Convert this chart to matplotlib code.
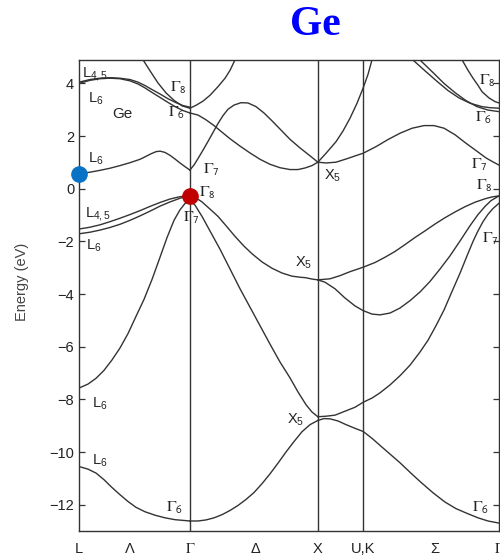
import numpy as np
import matplotlib.pyplot as plt

plt.rcParams['font.family'] = ['Liberation Sans', 'DejaVu Sans']
plt.rcParams['mathtext.fontset'] = 'custom'
plt.rcParams['mathtext.rm'] = 'Liberation Sans'
plt.rcParams['mathtext.it'] = 'Liberation Sans:italic'
plt.rcParams['mathtext.bf'] = 'Liberation Sans:bold'

# high-symmetry points along the path (units of 2*pi/a)
kL, kG, kX, kU, kG2 = 0.0, 0.866, 1.866, 2.220, 3.281
k_ticks = [kL, 0.398, kG, 1.375, kX, kU, 2.78, kG2]
k_names = ['L', 'Λ', r'$\Gamma$', 'Δ', 'X', 'U,K', 'Σ', r'$\Gamma$']
y_ticks = [-12, -10, -8, -6, -4, -2, 0, 2, 4]

# ---- L -> Gamma ----
k_lg = [0, 0.086, 0.164, 0.242, 0.320, 0.398, 0.477, 0.555, 0.633, 0.711, 0.789, 0.866]
E_lg_hh = [-1.71, -1.65, -1.57, -1.47, -1.35, -1.2, -1.03, -0.85, -0.66, -0.5, -0.36, -0.27]
E_lg_lh = [-1.53, -1.46, -1.37, -1.25, -1.12, -0.98, -0.83, -0.67, -0.52, -0.39, -0.3, -0.27]

k_lg_s = [0, 0.070, 0.133, 0.195, 0.258, 0.320, 0.383, 0.445, 0.516, 0.594, 0.672, 0.750, 0.866]
E_lg_s = [-10.55, -10.65, -10.8, -11.05, -11.35, -11.62, -11.88, -12.1, -12.27, -12.4, -12.5, -12.57, -12.62]

k_lg_so = [0, 0.070, 0.133, 0.195, 0.258, 0.320, 0.383, 0.445, 0.508, 0.570, 0.633, 0.688, 0.742, 0.789, 0.828, 0.866]
E_lg_so = [-7.57, -7.42, -7.2, -6.9, -6.5, -6.05, -5.5, -4.85, -4.2, -3.45, -2.6, -1.85, -1.2, -0.8, -0.56, -0.45]

k_lg_c1 = [0, 0.086, 0.164, 0.242, 0.320, 0.398, 0.477, 0.523, 0.563, 0.602, 0.633, 0.672, 0.711, 0.750, 0.789, 0.828, 0.866]
E_lg_c1 = [0.57, 0.63, 0.7, 0.78, 0.88, 0.99, 1.12, 1.23, 1.33, 1.41, 1.43, 1.38, 1.27, 1.13, 0.98, 0.84, 0.71]

k_lg_c2 = [0, 0.086, 0.164, 0.242, 0.320, 0.398, 0.461, 0.516, 0.570, 0.633, 0.695, 0.758, 0.813, 0.866]
E_lg_c2a = [4.05, 4.15, 4.2, 4.22, 4.2, 4.15, 4.05, 3.92, 3.77, 3.6, 3.42, 3.27, 3.16, 3.1]
E_lg_c2b = [4.0, 4.12, 4.18, 4.2, 4.18, 4.1, 3.98, 3.83, 3.66, 3.47, 3.28, 3.1, 2.97, 2.88]

k_lg_g8 = [0.5, 0.555, 0.617, 0.680, 0.742, 0.805, 0.866]
E_lg_g8 = [4.9, 4.48, 4.02, 3.64, 3.36, 3.15, 3.06]

# ---- Gamma -> X ----
k_gx_s = [0.866, 0.930, 0.992, 1.055, 1.117, 1.180, 1.242, 1.305, 1.367, 1.430, 1.492, 1.555, 1.617, 1.680, 1.742, 1.805, 1.866]
E_gx_s = [-12.62, -12.62, -12.58, -12.5, -12.38, -12.22, -12.03, -11.8, -11.54, -11.2, -10.83, -10.42, -10.0, -9.6, -9.23, -8.96, -8.8]

k_gx_so = [0.866, 0.906, 0.961, 1.023, 1.102, 1.180, 1.258, 1.336, 1.414, 1.492, 1.570, 1.648, 1.711, 1.773, 1.820, 1.866]
E_gx_so = [-0.45, -0.62, -1.05, -1.6, -2.3, -3.05, -3.8, -4.5, -5.2, -5.9, -6.58, -7.18, -7.72, -8.2, -8.48, -8.66]

k_gx_v = [0.866, 0.914, 0.961, 1.023, 1.086, 1.148, 1.219, 1.289, 1.352, 1.430, 1.508, 1.586, 1.664, 1.727, 1.773, 1.820, 1.866]
E_gx_v = [-0.27, -0.35, -0.5, -0.77, -1.05, -1.4, -1.81, -2.18, -2.47, -2.78, -3.02, -3.2, -3.32, -3.36, -3.38, -3.43, -3.46]

k_gx_c1 = [0.866, 0.898, 0.930, 0.969, 1.008, 1.047, 1.086, 1.125, 1.164, 1.211, 1.266, 1.320, 1.383, 1.445, 1.508, 1.570, 1.648, 1.727, 1.805, 1.866]
E_gx_c1 = [0.71, 0.9, 1.15, 1.47, 1.8, 2.14, 2.48, 2.78, 3.02, 3.18, 3.27, 3.26, 3.12, 2.88, 2.58, 2.27, 1.88, 1.55, 1.25, 1.01]

k_gx_c2 = [0.866, 0.930, 0.992, 1.055, 1.117, 1.180, 1.258, 1.336, 1.414, 1.492, 1.570, 1.648, 1.711, 1.766, 1.820, 1.866]
E_gx_c2 = [2.88, 2.8, 2.62, 2.4, 2.15, 1.9, 1.62, 1.36, 1.12, 0.93, 0.8, 0.73, 0.73, 0.79, 0.88, 1.01]

k_gx_g8 = [0.866, 0.914, 0.969, 1.023, 1.086, 1.141, 1.180, 1.219]
E_gx_g8 = [3.06, 3.17, 3.33, 3.55, 3.88, 4.2, 4.5, 4.9]

# ---- X -> U,K -> Gamma ----
k_xg_s = [1.866, 1.914, 1.961, 2.023, 2.086, 2.156, 2.220, 2.289, 2.352, 2.430, 2.508, 2.586, 2.664, 2.766, 2.859, 2.945, 3.031, 3.117, 3.195, 3.281]
E_xg_s = [-8.8, -8.73, -8.74, -8.82, -8.96, -9.1, -9.22, -9.48, -9.75, -10.08, -10.41, -10.77, -11.12, -11.55, -11.9, -12.15, -12.33, -12.5, -12.62, -12.7]

k_xg_so = [1.866, 1.930, 2.0, 2.078, 2.156, 2.220, 2.289, 2.352, 2.430, 2.508, 2.586, 2.664, 2.727, 2.789, 2.852, 2.914, 2.977, 3.031, 3.078, 3.117, 3.156, 3.195, 3.234, 3.281]
E_xg_so = [-8.66, -8.64, -8.6, -8.45, -8.3, -8.11, -7.95, -7.75, -7.45, -7.1, -6.7, -6.2, -5.75, -5.2, -4.6, -3.9, -3.2, -2.55, -2.0, -1.6, -1.25, -0.97, -0.75, -0.55]

k_xg_v1 = [1.866, 1.922, 2.0, 2.078, 2.156, 2.220, 2.289, 2.352, 2.430, 2.508, 2.586, 2.664, 2.742, 2.820, 2.898, 2.977, 3.055, 3.117, 3.172, 3.219, 3.281]
E_xg_v1 = [-3.46, -3.55, -3.8, -4.15, -4.45, -4.63, -4.76, -4.79, -4.72, -4.53, -4.25, -3.92, -3.52, -3.05, -2.55, -1.98, -1.4, -0.98, -0.67, -0.45, -0.27]

k_xg_v2 = [1.866, 1.961, 2.039, 2.117, 2.220, 2.313, 2.391, 2.469, 2.547, 2.625, 2.703, 2.781, 2.859, 2.938, 3.016, 3.094, 3.172, 3.227, 3.281]
E_xg_v2 = [-3.46, -3.42, -3.3, -3.15, -2.98, -2.8, -2.6, -2.38, -2.12, -1.85, -1.6, -1.34, -1.1, -0.88, -0.68, -0.51, -0.38, -0.31, -0.27]

k_xg_c1 = [1.866, 1.930, 2.008, 2.086, 2.164, 2.220, 2.320, 2.414, 2.508, 2.602, 2.695, 2.773, 2.852, 2.938, 3.023, 3.102, 3.180, 3.234, 3.281]
E_xg_c1 = [1.01, 0.98, 1.01, 1.13, 1.26, 1.35, 1.6, 1.87, 2.11, 2.3, 2.4, 2.4, 2.3, 2.05, 1.73, 1.45, 1.17, 1.02, 0.9]

k_xg_c2 = [1.866, 1.930, 2.008, 2.063, 2.117, 2.172, 2.219, 2.258, 2.289]
E_xg_c2 = [1.01, 1.35, 1.79, 2.2, 2.68, 3.25, 3.82, 4.35, 4.9]

k_xg_c3a = [2.609, 2.703, 2.797, 2.883, 2.969, 3.055, 3.148, 3.211, 3.281]
E_xg_c3a = [4.89, 4.48, 4.08, 3.73, 3.45, 3.25, 3.12, 3.08, 3.06]
k_xg_c3b = [2.664, 2.758, 2.852, 2.938, 3.023, 3.109, 3.195, 3.281]
E_xg_c3b = [4.89, 4.45, 4.0, 3.65, 3.35, 3.12, 2.99, 2.93]

k_xg_g8 = [2.992, 3.039, 3.078, 3.117, 3.148, 3.203, 3.250, 3.281]
E_xg_g8 = [4.9, 4.5, 4.2, 3.93, 3.69, 3.45, 3.31, 3.26]

bands = [
    (k_lg, E_lg_hh), (k_lg, E_lg_lh), (k_lg_s, E_lg_s), (k_lg_so, E_lg_so),
    (k_lg_c1, E_lg_c1), (k_lg_c2, E_lg_c2a), (k_lg_c2, E_lg_c2b), (k_lg_g8, E_lg_g8),
    (k_gx_s, E_gx_s), (k_gx_so, E_gx_so), (k_gx_v, E_gx_v), (k_gx_c1, E_gx_c1),
    (k_gx_c2, E_gx_c2), (k_gx_g8, E_gx_g8),
    (k_xg_s, E_xg_s), (k_xg_so, E_xg_so), (k_xg_v1, E_xg_v1), (k_xg_v2, E_xg_v2),
    (k_xg_c1, E_xg_c1), (k_xg_c2, E_xg_c2), (k_xg_c3a, E_xg_c3a), (k_xg_c3b, E_xg_c3b),
    (k_xg_g8, E_xg_g8),
]

# band labels: (text, k, E, greek?)
labels = [
    (r'L$_{4,5}$', 0.023, 4.24, False), (r'L$_{6}$', 0.07, 3.29, False),
    (r'$\Gamma_{\mathsf{8}}$', 0.711, 3.68, True), (r'$\Gamma_{\mathsf{6}}$', 0.695, 2.73, True),
    (r'L$_{6}$', 0.07, 0.98, False), (r'$\Gamma_{\mathsf{7}}$', 0.969, 0.57, True),
    (r'$\Gamma_{\mathsf{8}}$', 0.9375, -0.31, True), (r'L$_{4,5}$', 0.047, -1.07, False),
    (r'$\Gamma_{\mathsf{7}}$', 0.8125, -1.26, True), (r'L$_{6}$', 0.055, -2.32, False),
    (r'X$_{5}$', 1.914, 0.34, False), (r'X$_{5}$', 1.6875, -2.96, False),
    (r'X$_{5}$', 1.625, -8.92, False), (r'L$_{6}$', 0.10, -8.31, False),
    (r'L$_{6}$', 0.10, -10.48, False), (r'$\Gamma_{\mathsf{6}}$', 0.68, -12.26, True),
    (r'$\Gamma_{\mathsf{8}}$', 3.125, 3.94, True), (r'$\Gamma_{\mathsf{6}}$', 3.094, 2.54, True),
    (r'$\Gamma_{\mathsf{7}}$', 3.0625, 0.76, True), (r'$\Gamma_{\mathsf{8}}$', 3.10, -0.04, True),
    (r'$\Gamma_{\mathsf{7}}$', 3.148, -2.05, True), (r'$\Gamma_{\mathsf{6}}$', 3.07, -12.26, True),
]

ink = '#333333'
fig = plt.figure(figsize=(5, 5.58), dpi=100)
ax = fig.add_axes([0.158, 0.0484, 0.840, 0.844])

for k, E in bands:
    ax.plot(k, E, color=ink, lw=1.0)
for kv in (kG, kX, kU):
    ax.axvline(kv, color=ink, lw=1.0)

ax.plot(kL, E_lg_c1[0], 'o', ms=11, color='#0a72c4', clip_on=False, zorder=5)
ax.plot(kG, E_lg_hh[-1], 'o', ms=11, color='#c00000', clip_on=False, zorder=5)

for txt, k, E, greek in labels:
    t = ax.text(k, E, txt, fontsize=10.5, color='#222222', va='baseline', ha='left')
    if greek:
        t.set_math_fontfamily('stix')
        t.set_fontsize(11.5)
ax.text(0.258, 2.69, 'Ge', fontsize=11, color='#222222', va='baseline')

ax.set_xlim(kL, kG2)
ax.set_ylim(-13, 4.89)
ax.set_xticks(k_ticks)
ax.set_xticklabels(k_names)
for t in ax.get_xticklabels():
    t.set_math_fontfamily('stix')
ax.set_yticks(y_ticks)
ax.tick_params(axis='y', direction='in', length=4, width=0.9, left=True, right=True,
               labelsize=10.5, labelcolor='#222222', color=ink)
ax.tick_params(axis='x', length=0, pad=8, labelsize=10.5, labelcolor='#222222')
for sp in ax.spines.values():
    sp.set_color(ink)
    sp.set_linewidth(1.0)

fig.text(22 / 500, 1 - 282 / 558, 'Energy (eV)', rotation=90, fontsize=10.5,
         color='#444444', ha='center', va='center')
fig.text(315 / 500, 1 - 25 / 558, 'Ge', fontsize=30, fontweight='bold',
         family='Liberation Serif', color='#0000ff', ha='center', va='center')

fig.savefig('out.png', dpi=100)
